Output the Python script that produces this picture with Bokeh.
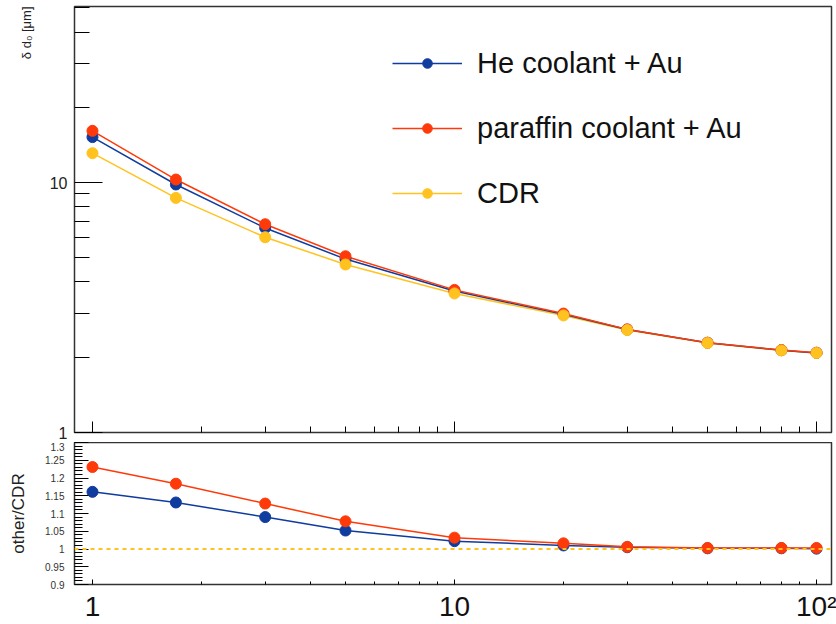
from bokeh.plotting import figure
from bokeh.layouts import column
from bokeh.models import Range1d, FixedTicker, Span, Legend, LegendItem, Title
from bokeh.embed import file_html
from bokeh.resources import INLINE

# ---------------- data ----------------
x_vals = [1, 1.7, 3, 5, 10, 20, 30, 50, 80, 100]
cdr = [13.1, 8.68, 6.04, 4.70, 3.60, 2.94, 2.57, 2.28, 2.13, 2.08]
he_au = [15.2, 9.82, 6.58, 4.94, 3.68, 2.97, 2.58, 2.285, 2.134, 2.082]
paraffin_au = [16.1, 10.28, 6.81, 5.07, 3.72, 2.99, 2.585, 2.287, 2.136, 2.086]
ratio_he = [1.161, 1.131, 1.090, 1.052, 1.022, 1.010, 1.005, 1.002, 1.002, 1.001]
ratio_paraffin = [1.231, 1.184, 1.128, 1.078, 1.032, 1.016, 1.006, 1.003, 1.003, 1.003]

series_names = ["He coolant + Au", "paraffin coolant + Au", "CDR"]
x_tick_labels = {1: "1", 10: "10", 100: "10\u00b2"}
ratio_ticks = [0.9, 0.95, 1.0, 1.05, 1.1, 1.15, 1.2, 1.25, 1.3]
ratio_tick_labels = {0.9: "0.9", 0.95: "0.95", 1.0: "1", 1.05: "1.05", 1.1: "1.1",
                     1.15: "1.15", 1.2: "1.2", 1.25: "1.25", 1.3: "1.3"}

FONT = "Liberation Sans"
BLUE = "#0f3c9e"
RED = "#ff3a0a"
YEL = "#ffc21f"
FRAME = "#333333"

x_major = [1, 10, 100]
x_minor = [2, 3, 4, 5, 6, 7, 8, 9, 20, 30, 40, 50, 60, 70, 80, 90]

xr = Range1d(0.892, 110)

# ---------------- top panel ----------------
top = figure(frame_width=757, frame_height=426, min_border_left=74, min_border_right=5,
             min_border_top=6, min_border_bottom=10,
             x_axis_type="log", y_axis_type="log", x_range=xr, y_range=Range1d(1, 50.6),
             output_backend="svg", toolbar_location=None)
top.background_fill_color = "white"
top.border_fill_color = "white"
top.outline_line_color = FRAME
top.outline_line_width = 1.5
top.xgrid.visible = False
top.ygrid.visible = False

l_cdr = top.line(x_vals, cdr, line_color=YEL, line_width=1.5)
l_he = top.line(x_vals, he_au, line_color=BLUE, line_width=1.5)
l_pa = top.line(x_vals, paraffin_au, line_color=RED, line_width=1.5)
s_he = top.scatter(x_vals, he_au, size=11, color=BLUE)
s_pa = top.scatter(x_vals, paraffin_au, size=11, color=RED)
s_cdr = top.scatter(x_vals, cdr, size=11, color=YEL)

xa = top.xaxis[0]
xa.ticker = FixedTicker(ticks=x_major, minor_ticks=x_minor)
xa.major_tick_in = 11
xa.major_tick_out = 0
xa.minor_tick_in = 6
xa.minor_tick_out = 0
xa.major_label_text_font_size = "1px"
xa.major_label_text_alpha = 0
xa.major_label_standoff = 0
xa.axis_line_color = None
xa.major_tick_line_color = "black"
xa.minor_tick_line_color = "black"

ya = top.yaxis[0]
ya.ticker = FixedTicker(ticks=[1, 10], minor_ticks=[2, 3, 4, 5, 6, 7, 8, 9, 20, 30, 40, 50])
ya.major_label_overrides = {1: "1", 10: "10"}
ya.major_tick_in = 28
ya.major_tick_out = 0
ya.minor_tick_in = 15
ya.minor_tick_out = 0
ya.axis_line_color = None
ya.major_tick_line_color = "black"
ya.minor_tick_line_color = "black"
ya.major_label_text_font = FONT
ya.major_label_text_font_size = "16px"
ya.major_label_text_color = "#222222"
ya.major_label_standoff = 7

ytitle = Title(text="\u03b4 d\u2080 [\u03bcm]", align="right", standoff=26,
               text_font=FONT, text_font_size="13px", text_font_style="normal",
               text_color="#222222")
top.add_layout(ytitle, "left")

legend = Legend(items=[LegendItem(label=series_names[0], renderers=[l_he, s_he]),
                       LegendItem(label=series_names[1], renderers=[l_pa, s_pa]),
                       LegendItem(label=series_names[2], renderers=[l_cdr, s_cdr])],
                location=(318, 219), orientation="vertical",
                glyph_width=70, glyph_height=24, label_height=40, spacing=25,
                label_standoff=15, padding=0, margin=0,
                label_text_font=FONT, label_text_font_size="29px",
                label_text_color="#111111",
                border_line_alpha=0, background_fill_alpha=0)
top.add_layout(legend)

# ---------------- bottom panel ----------------
bot = figure(frame_width=757, frame_height=142, min_border_left=74, min_border_right=5,
             min_border_top=0, min_border_bottom=40,
             x_axis_type="log", x_range=xr, y_range=Range1d(0.9, 1.3),
             output_backend="svg", toolbar_location=None)
bot.background_fill_color = "white"
bot.border_fill_color = "white"
bot.outline_line_color = FRAME
bot.outline_line_width = 1.5
bot.xgrid.visible = False
bot.ygrid.visible = False

bot.add_layout(Span(location=1.0, dimension="width", line_color=YEL,
                    line_width=2, line_dash="4 4"))
bot.line(x_vals, ratio_he, line_color=BLUE, line_width=1.5)
bot.scatter(x_vals, ratio_he, size=11, color=BLUE)
bot.line(x_vals, ratio_paraffin, line_color=RED, line_width=1.5)
bot.scatter(x_vals, ratio_paraffin, size=11, color=RED)

bx = bot.xaxis[0]
bx.ticker = FixedTicker(ticks=x_major, minor_ticks=x_minor)
bx.major_label_overrides = x_tick_labels
bx.major_tick_in = 5
bx.major_tick_out = 0
bx.minor_tick_in = 3
bx.minor_tick_out = 0
bx.axis_line_color = None
bx.major_label_text_font = FONT
bx.major_label_text_font_size = "28px"
bx.major_label_text_color = "#111111"
bx.major_label_standoff = 6

minor_ratio = [round(0.9 + 0.01 * i, 2) for i in range(41) if i % 5]
by = bot.yaxis[0]
by.ticker = FixedTicker(ticks=ratio_ticks, minor_ticks=minor_ratio)
by.major_label_overrides = ratio_tick_labels
by.major_tick_in = 14
by.major_tick_out = 0
by.minor_tick_in = 8
by.minor_tick_out = 0
by.axis_line_color = None
by.major_label_text_font = FONT
by.major_label_text_font_size = "10px"
by.major_label_text_color = "#333333"
by.major_label_standoff = 10
by.axis_label = "other/CDR"
by.axis_label_text_font = FONT
by.axis_label_text_font_style = "normal"
by.axis_label_text_font_size = "17px"
by.axis_label_text_color = "#222222"
by.axis_label_standoff = 14

layout = column(top, bot, spacing=0)
open("out.html", "w").write(file_html(layout, INLINE))
